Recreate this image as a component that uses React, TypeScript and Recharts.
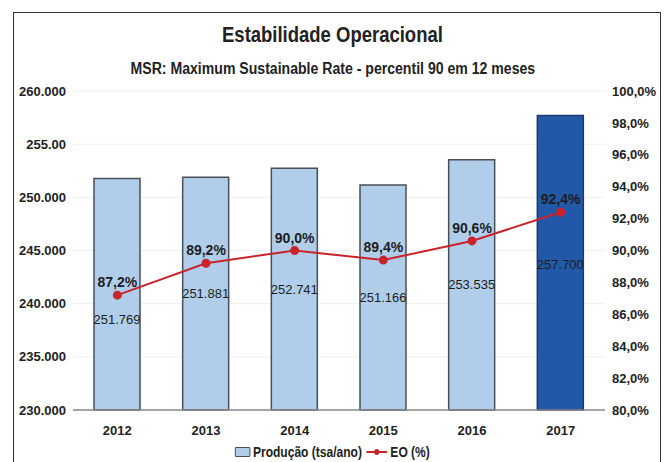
import React from 'react';
import { ComposedChart, Bar, Line, XAxis, YAxis, CartesianGrid, LabelList, Cell } from 'recharts';

const years = ['2012', '2013', '2014', '2015', '2016', '2017'];
const producao = [251769, 251881, 252741, 251166, 253535, 257700];
const eo = [87.2, 89.2, 90.0, 89.4, 90.6, 92.4];

const leftTicks = [230000, 235000, 240000, 245000, 250000, 255000, 260000];
const leftTickLabels = ['230.000', '235.000', '240.000', '245.000', '250.000', '255.00', '260.000'];
const rightTicks = [80, 82, 84, 86, 88, 90, 92, 94, 96, 98, 100];

// where the value text sits inside each bar, measured down from the bar top
const barLabelDy = [142, 117, 122, 114, 126, 150];

const chartData = years.map((year, i) => ({
  year,
  producao: producao[i],
  eo: eo[i],
}));

const FONT = '"Liberation Sans", Arial, sans-serif';
const LIGHT_BLUE = '#b0cdea';
const DARK_BLUE = '#2159a8';
const RED = '#c8242b';

const fmtThousands = (v: number) => String(v).replace(/\B(?=(\d{3})+(?!\d))/g, '.');
const fmtPct = (v: number) => v.toFixed(1).replace('.', ',') + '%';

const BarValueLabel = (props: any) => {
  const { x, y, width, index, value } = props;
  return (
    <text
      x={x + width / 2}
      y={y + barLabelDy[index]}
      textAnchor="middle"
      dominantBaseline="middle"
      fontFamily={FONT}
      fontSize={13}
      fill="#1e1e1e"
    >
      {fmtThousands(value)}
    </text>
  );
};

const tickStyle = { fontFamily: FONT, fontSize: 13, fontWeight: 'bold', fill: '#222' };

const App: React.FC = () => {
  return (
    <div style={{ position: 'relative', width: 665, height: 462, background: '#fff', fontFamily: FONT, overflow: 'hidden' }}>
      <style>{`body { margin: 0; }`}</style>
      <div
        style={{
          position: 'absolute', left: 13, top: 12, width: 646, height: 460,
          borderTop: '1.5px solid #333', borderLeft: '1.5px solid #333', borderRight: '1.5px solid #333',
        }}
      />
      <div style={{ position: 'absolute', top: 22, left: 0, width: 665, textAlign: 'center', fontSize: 22, fontWeight: 'bold', color: '#222' }}>
        <span style={{ display: 'inline-block', transform: 'scaleX(0.84)' }}>Estabilidade Operacional</span>
      </div>
      <div style={{ position: 'absolute', top: 60, left: 0, width: 665, textAlign: 'center', fontSize: 16, fontWeight: 'bold', color: '#222' }}>
        <span style={{ display: 'inline-block', transform: 'scaleX(0.88)' }}>MSR: Maximum Sustainable Rate - percentil 90 em 12 meses</span>
      </div>

      <div style={{ position: 'absolute', left: 0, top: 0 }}>
        <ComposedChart width={665} height={462} data={chartData} margin={{ top: 91, right: 0, bottom: 22, left: 0 }}>
          <CartesianGrid yAxisId="left" vertical={false} stroke="#efefef" />
          <XAxis
            dataKey="year"
            height={30}
            tickLine={false}
            axisLine={{ stroke: '#8a8a8a', strokeWidth: 1.5 }}
            tickMargin={10}
            tick={tickStyle}
          />
          <YAxis
            yAxisId="left"
            width={73}
            domain={[230000, 260000]}
            ticks={leftTicks}
            interval={0}
            axisLine={false}
            tickLine={false}
            tickSize={0}
            tickMargin={7}
            tickFormatter={(v: number) => leftTickLabels[leftTicks.indexOf(v)]}
            tick={tickStyle}
          />
          <YAxis
            yAxisId="right"
            orientation="right"
            width={60}
            domain={[80, 100]}
            ticks={rightTicks}
            interval={0}
            axisLine={false}
            tickLine={false}
            tickSize={0}
            tickMargin={7}
            tickFormatter={(v: number) => fmtPct(v)}
            tick={tickStyle}
          />
          <Bar yAxisId="left" dataKey="producao" barSize={46} stroke="#4a4f55" strokeWidth={1.5} isAnimationActive={false}>
            {chartData.map((d, i) => (
              <Cell key={d.year} fill={i === chartData.length - 1 ? DARK_BLUE : LIGHT_BLUE} stroke={i === chartData.length - 1 ? '#1d3a6b' : '#4a4f55'} />
            ))}
            <LabelList dataKey="producao" content={BarValueLabel} />
          </Bar>
          <Line
            yAxisId="right"
            dataKey="eo"
            stroke={RED}
            strokeWidth={2}
            dot={{ r: 3.5, fill: RED, stroke: RED }}
            isAnimationActive={false}
          >
            <LabelList
              dataKey="eo"
              position="top"
              offset={8}
              formatter={(v: any) => fmtPct(Number(v))}
              style={{ fontFamily: FONT, fontSize: 14, fontWeight: 'bold', fill: '#1e1e1e' }}
            />
          </Line>
        </ComposedChart>
      </div>

      <div style={{ position: 'absolute', top: 444, left: 0, width: 665, display: 'flex', justifyContent: 'center', alignItems: 'center', fontSize: 14, fontWeight: 'bold', color: '#222' }}>
        <div style={{ display: 'flex', alignItems: 'center', transform: 'scaleX(0.86)' }}>
          <span style={{ display: 'inline-block', width: 16, height: 8, background: LIGHT_BLUE, border: '1.5px solid #3f4449', borderRadius: 1, marginRight: 3 }} />
          <span>Produção (tsa/ano)</span>
          <svg width={26} height={10} style={{ margin: '0 3px 0 4px' }}>
            <line x1={1} y1={5} x2={25} y2={5} stroke={RED} strokeWidth={2} />
            <circle cx={13} cy={5} r={3} fill={RED} />
          </svg>
          <span>EO (%)</span>
        </div>
      </div>
    </div>
  );
};

export default App;
